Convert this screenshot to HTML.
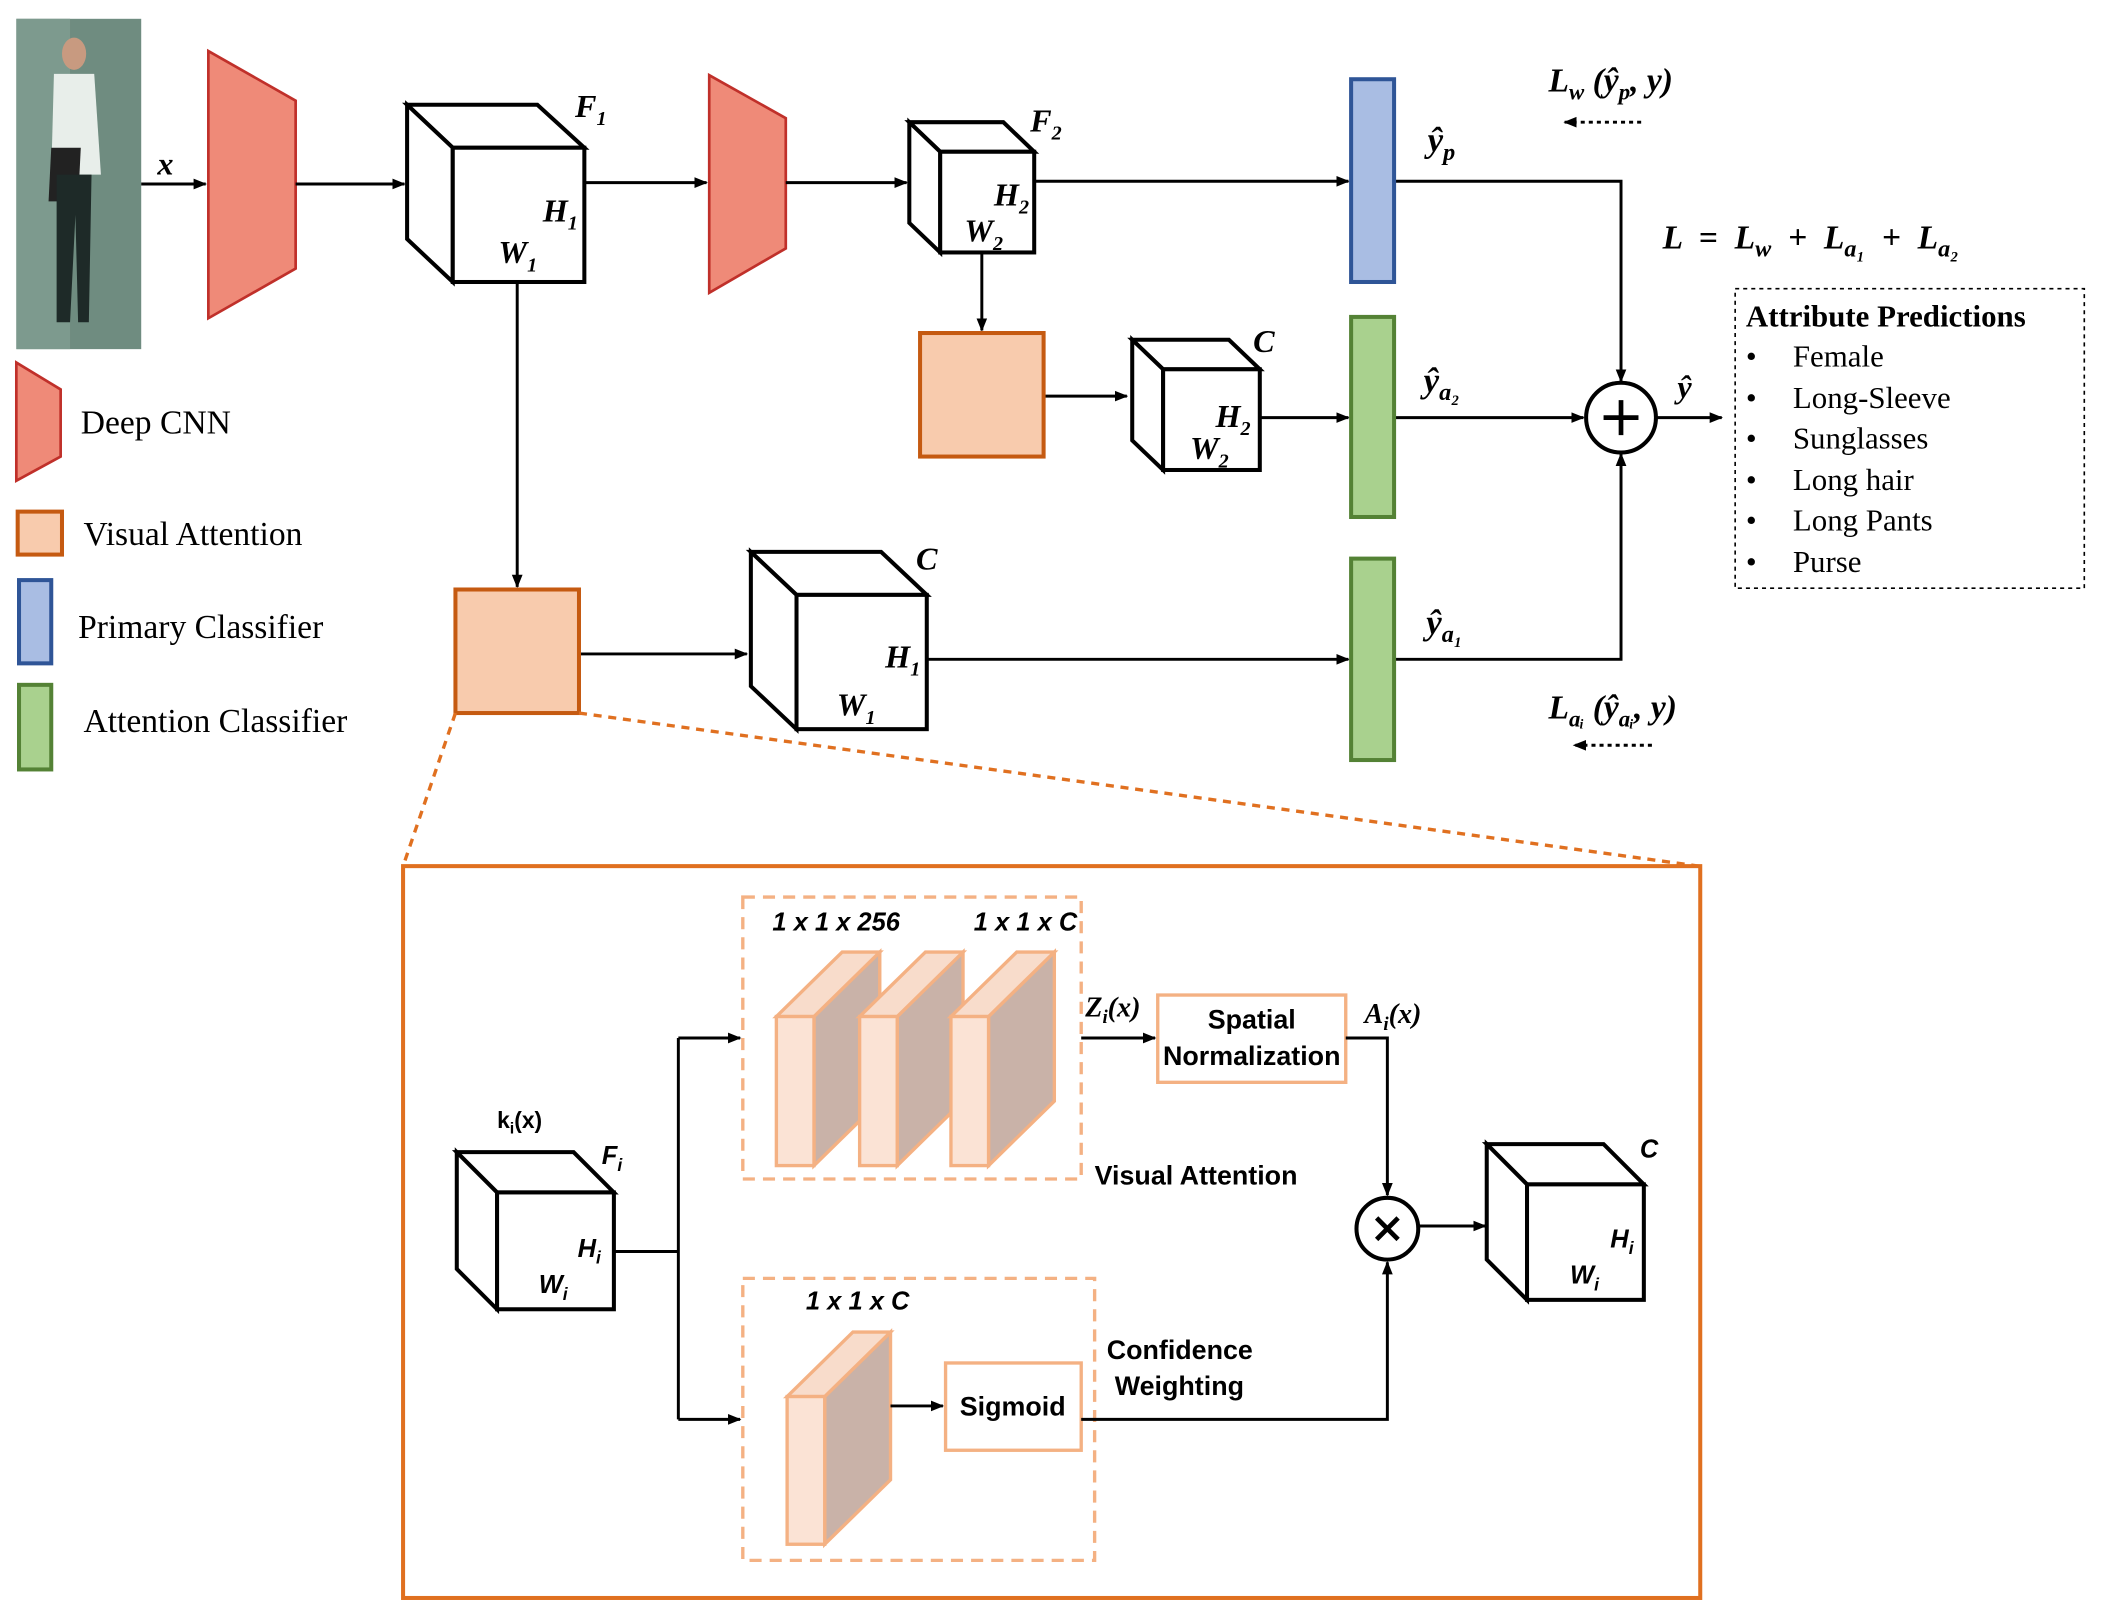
<!DOCTYPE html>
<html><head><meta charset="utf-8">
<style>
html,body{margin:0;padding:0;background:#fff;}
svg{display:block;}
.ser{font-family:"Liberation Serif",serif;}
.it{font-family:"Liberation Serif",serif;font-style:italic;font-weight:bold;}
.sb{font-family:"Liberation Sans",sans-serif;font-weight:bold;}
</style></head><body>
<svg width="2106" height="1602" viewBox="0 0 1568 1193" xmlns="http://www.w3.org/2000/svg">
<defs>
<marker id="a" markerWidth="10" markerHeight="10" refX="9" refY="5" orient="auto" markerUnits="userSpaceOnUse">
<path d="M0,1 L10,5 L0,9 Z" fill="#000"/></marker>
</defs>
<!-- photo -->
<rect x="12" y="14" width="93" height="246" fill="#6f8c80"/>
<rect x="12" y="14" width="40" height="246" fill="#7d9a8e"/>
<ellipse cx="55" cy="40" rx="9" ry="12" fill="#c89a80"/>
<path d="M40,55 L70,55 L75,130 L38,130 Z" fill="#e8eeea"/>
<path d="M38,110 L60,110 L58,150 L36,150 Z" fill="#222"/>
<path d="M42,130 L68,130 L66,240 L58,240 L56,160 L52,240 L42,240 Z" fill="#1e2a28"/>

<!-- trapezoids -->
<polygon points="155,38 220,75 220,200 155,237" fill="#ef8a78" stroke="#c0302a" stroke-width="2"/>
<polygon points="528,56 585,88 585,185 528,218" fill="#ef8a78" stroke="#c0302a" stroke-width="2"/>

<g stroke="#000" stroke-width="2.2" fill="none">
<line x1="105" y1="137" x2="153" y2="137" marker-end="url(#a)"/>
<line x1="220" y1="137" x2="301" y2="137" marker-end="url(#a)"/>
<line x1="435" y1="136" x2="526" y2="136" marker-end="url(#a)"/>
<line x1="585" y1="136" x2="675" y2="136" marker-end="url(#a)"/>
<line x1="770" y1="135" x2="1004" y2="135" marker-end="url(#a)"/>
<polyline points="1038,135 1207,135 1207,284" marker-end="url(#a)"/>
<line x1="731" y1="188" x2="731" y2="246" marker-end="url(#a)"/>
<line x1="777" y1="295" x2="839" y2="295" marker-end="url(#a)"/>
<line x1="938" y1="311" x2="1004" y2="311" marker-end="url(#a)"/>
<line x1="1038" y1="311" x2="1179" y2="311" marker-end="url(#a)"/>
<line x1="1233" y1="311" x2="1282" y2="311" marker-end="url(#a)"/>
<line x1="385" y1="210" x2="385" y2="437" marker-end="url(#a)"/>
<line x1="431" y1="487" x2="556" y2="487" marker-end="url(#a)"/>
<line x1="690" y1="491" x2="1004" y2="491" marker-end="url(#a)"/>
<polyline points="1038,491 1207,491 1207,338" marker-end="url(#a)"/>
<line x1="1222" y1="91" x2="1165" y2="91" stroke-dasharray="3,3" marker-end="url(#a)"/>
<line x1="1230" y1="555" x2="1172" y2="555" stroke-dasharray="3,3" marker-end="url(#a)"/>
</g>

<!-- cubes -->
<g fill="#fff" stroke="#000" stroke-width="3" stroke-linejoin="miter">
<polygon points="303,78 400,78 435,110 337,110"/><polygon points="303,78 337,110 337,210 303,178"/><rect x="337" y="110" width="98" height="100"/>
<polygon points="677,91 747,91 770,113 700,113"/><polygon points="677,91 700,113 700,188 677,166"/><rect x="700" y="113" width="70" height="75"/>
<polygon points="843,253 915,253 938,275 866,275"/><polygon points="843,253 866,275 866,350 843,328"/><rect x="866" y="275" width="72" height="75"/>
<polygon points="559,411 656,411 690,443 593,443"/><polygon points="559,411 593,443 593,543 559,511"/><rect x="593" y="443" width="97" height="100"/>
<polygon points="340,858 427,858 457,888 370,888"/><polygon points="340,858 370,888 370,975 340,945"/><rect x="370" y="888" width="87" height="87"/>
<polygon points="1107,852 1194,852 1224,882 1137,882"/><polygon points="1107,852 1137,882 1137,968 1107,938"/><rect x="1137" y="882" width="87" height="86"/>
</g>

<!-- bars & squares -->
<rect x="1006" y="59" width="32" height="151" fill="#a9bde3" stroke="#2f5597" stroke-width="3"/>
<rect x="1006" y="236" width="32" height="149" fill="#a9d18e" stroke="#548235" stroke-width="3"/>
<rect x="1006" y="416" width="32" height="150" fill="#a9d18e" stroke="#548235" stroke-width="3"/>
<rect x="685" y="248" width="92" height="92" fill="#f8cbad" stroke="#c55a11" stroke-width="3"/>
<rect x="339" y="439" width="92" height="92" fill="#f8cbad" stroke="#c55a11" stroke-width="3"/>

<circle cx="1207" cy="311" r="26" fill="#fff" stroke="#000" stroke-width="3"/>
<path d="M1207,298 V324 M1194,311 H1220" stroke="#000" stroke-width="3.5"/>

<!-- legend -->
<polygon points="12,270 45,290 45,340 12,358" fill="#ef8a78" stroke="#c0302a" stroke-width="2"/>
<rect x="13" y="381" width="33" height="32" fill="#f8cbad" stroke="#c55a11" stroke-width="3"/>
<rect x="14" y="432" width="24" height="62" fill="#a9bde3" stroke="#2f5597" stroke-width="3"/>
<rect x="14" y="510" width="24" height="63" fill="#a9d18e" stroke="#548235" stroke-width="3"/>
<g class="ser" font-size="25" fill="#000">
<text x="60" y="323">Deep CNN</text>
<text x="62" y="406">Visual Attention</text>
<text x="58" y="475">Primary Classifier</text>
<text x="62" y="545">Attention Classifier</text>
</g>

<!-- labels top -->
<g class="it" font-size="24" fill="#000">
<text x="117" y="130">x</text>
<text x="428" y="87">F<tspan font-size="15" dy="6">1</tspan></text>
<text x="404" y="165">H<tspan font-size="15" dy="6">1</tspan></text>
<text x="371" y="196">W<tspan font-size="15" dy="6">1</tspan></text>
<text x="767" y="98">F<tspan font-size="15" dy="6">2</tspan></text>
<text x="740" y="153">H<tspan font-size="15" dy="6">2</tspan></text>
<text x="718" y="180">W<tspan font-size="15" dy="6">2</tspan></text>
<text x="933" y="262">C</text>
<text x="905" y="318">H<tspan font-size="15" dy="6">2</tspan></text>
<text x="886" y="342">W<tspan font-size="15" dy="6">2</tspan></text>
<text x="682" y="424">C</text>
<text x="659" y="497">H<tspan font-size="15" dy="6">1</tspan></text>
<text x="623" y="533">W<tspan font-size="15" dy="6">1</tspan></text>
<text x="1063" y="113" font-size="26">ŷ<tspan font-size="18" dy="6">p</tspan></text>
<text x="1060" y="292" font-size="26">ŷ<tspan font-size="18" dy="6">a₂</tspan></text>
<text x="1062" y="472" font-size="26">ŷ<tspan font-size="18" dy="6">a₁</tspan></text>
<text x="1249" y="296">ŷ</text>
<text x="1153" y="68" font-size="25">L<tspan font-size="17" dy="6">w</tspan><tspan dy="-6"> (ŷ</tspan><tspan font-size="17" dy="6">p</tspan><tspan dy="-6">, y)</tspan></text>
<text x="1153" y="535" font-size="25">L<tspan font-size="17" dy="6">aᵢ</tspan><tspan dy="-6"> (ŷ</tspan><tspan font-size="17" dy="6">aᵢ</tspan><tspan dy="-6">, y)</tspan></text>
<text x="1238" y="185" font-size="25" xml:space="preserve">L  =  L<tspan font-size="18" dy="6">w</tspan><tspan dy="-6">  +  L</tspan><tspan font-size="18" dy="6">a₁</tspan><tspan dy="-6">  +  L</tspan><tspan font-size="18" dy="6">a₂</tspan></text>
</g>

<!-- attribute predictions -->
<rect x="1292" y="215" width="260" height="223" fill="none" stroke="#000" stroke-width="1.2" stroke-dasharray="3,3"/>
<g class="ser" font-size="23" fill="#000">
<text x="1300" y="243" font-weight="bold">Attribute Predictions</text>
<text x="1300" y="273">•</text><text x="1335" y="273">Female</text>
<text x="1300" y="304">•</text><text x="1335" y="304">Long-Sleeve</text>
<text x="1300" y="334">•</text><text x="1335" y="334">Sunglasses</text>
<text x="1300" y="365">•</text><text x="1335" y="365">Long hair</text>
<text x="1300" y="395">•</text><text x="1335" y="395">Long Pants</text>
<text x="1300" y="426">•</text><text x="1335" y="426">Purse</text>
</g>

<!-- zoom lines & big box -->
<line x1="339" y1="531" x2="300" y2="645" stroke="#e07020" stroke-width="2.5" stroke-dasharray="6,5"/>
<line x1="431" y1="531" x2="1265" y2="645" stroke="#e07020" stroke-width="2.5" stroke-dasharray="6,5"/>
<rect x="300" y="645" width="966" height="545" fill="none" stroke="#e07020" stroke-width="3"/>

<rect x="553" y="668" width="252" height="210" fill="none" stroke="#f4b183" stroke-width="2.5" stroke-dasharray="9,6"/>
<rect x="553" y="952" width="262" height="210" fill="none" stroke="#f4b183" stroke-width="2.5" stroke-dasharray="9,6"/>

<!-- slabs -->
<g stroke="#f4b183" stroke-width="2.5">
<polygon points="606,757 655,709 655,820 606,868" fill="#c9b2a8"/><polygon points="578,757 627,709 655,709 606,757" fill="#f8dccb"/><rect x="578" y="757" width="28" height="111" fill="#fbe3d5"/>
<polygon points="668,757 717,709 717,820 668,868" fill="#c9b2a8"/><polygon points="640,757 689,709 717,709 668,757" fill="#f8dccb"/><rect x="640" y="757" width="28" height="111" fill="#fbe3d5"/>
<polygon points="736,757 785,709 785,820 736,868" fill="#c9b2a8"/><polygon points="708,757 757,709 785,709 736,757" fill="#f8dccb"/><rect x="708" y="757" width="28" height="111" fill="#fbe3d5"/>
<polygon points="614,1040 663,992 663,1102 614,1150" fill="#c9b2a8"/><polygon points="586,1040 635,992 663,992 614,1040" fill="#f8dccb"/><rect x="586" y="1040" width="28" height="110" fill="#fbe3d5"/>
</g>
<rect x="862" y="741" width="140" height="65" fill="#fff" stroke="#f4b183" stroke-width="2.5"/>
<rect x="704" y="1015" width="101" height="65" fill="#fff" stroke="#f4b183" stroke-width="2.5"/>

<g stroke="#000" stroke-width="2.2" fill="none">
<line x1="805" y1="773" x2="860" y2="773" marker-end="url(#a)"/>
<polyline points="1002,773 1033,773 1033,890" marker-end="url(#a)"/>
<line x1="457" y1="932" x2="505" y2="932"/>
<line x1="505" y1="773" x2="505" y2="1057"/>
<line x1="505" y1="773" x2="551" y2="773" marker-end="url(#a)"/>
<line x1="505" y1="1057" x2="551" y2="1057" marker-end="url(#a)"/>
<line x1="663" y1="1047" x2="702" y2="1047" marker-end="url(#a)"/>
<polyline points="805,1057 1033,1057 1033,940" marker-end="url(#a)"/>
<line x1="1056" y1="913" x2="1106" y2="913" marker-end="url(#a)"/>
</g>
<circle cx="1033" cy="915" r="23" fill="#fff" stroke="#000" stroke-width="3"/>
<path d="M1025,907 L1041,923 M1041,907 L1025,923" stroke="#000" stroke-width="3.5"/>

<g class="sb" font-size="20" fill="#000">
<text x="932" y="766" text-anchor="middle">Spatial</text>
<text x="932" y="793" text-anchor="middle">Normalization</text>
<text x="754" y="1054" text-anchor="middle">Sigmoid</text>
<text x="815" y="882">Visual Attention</text>
<text x="824" y="1012">Confidence</text>
<text x="830" y="1039">Weighting</text>
<text x="370" y="840" font-size="17">k<tspan font-size="12" dy="4">i</tspan><tspan dy="-4">(x)</tspan></text>
</g>
<g class="sb" font-style="italic" font-size="19" fill="#000">
<text x="575" y="693">1 x 1 x 256</text>
<text x="725" y="693">1 x 1 x C</text>
<text x="600" y="975">1 x 1 x C</text>
<text x="448" y="867">F<tspan font-size="13" dy="5">i</tspan></text>
<text x="430" y="936">H<tspan font-size="13" dy="5">i</tspan></text>
<text x="401" y="963">W<tspan font-size="13" dy="5">i</tspan></text>
<text x="1221" y="862">C</text>
<text x="1199" y="929">H<tspan font-size="13" dy="5">i</tspan></text>
<text x="1169" y="956">W<tspan font-size="13" dy="5">i</tspan></text>
</g>
<g class="it" font-size="21" fill="#000">
<text x="808" y="757">Z<tspan font-size="14" dy="5">i</tspan><tspan dy="-5">(x)</tspan></text>
<text x="1016" y="762">A<tspan font-size="14" dy="5">i</tspan><tspan dy="-5">(x)</tspan></text>
</g>
</svg>
</body></html>
